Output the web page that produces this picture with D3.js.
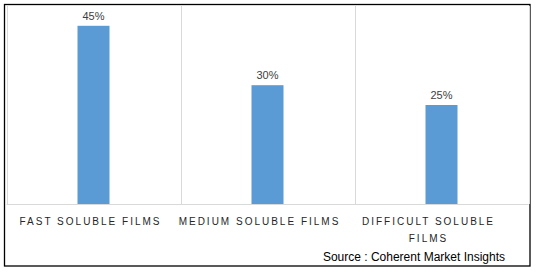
<!DOCTYPE html>
<html>
<head>
<meta charset="utf-8">
<script src="https://cdn.jsdelivr.net/npm/d3@7"></script>
<style>
  body { margin: 0; background: #fff; }
  svg { display: block; }
</style>
</head>
<body>
<div id="chart"></div>
<script>
// data
const categories = ["FAST SOLUBLE FILMS", "MEDIUM SOLUBLE FILMS", "DIFFICULT SOLUBLE FILMS"];
const labelLines = [["FAST SOLUBLE FILMS"], ["MEDIUM SOLUBLE FILMS"], ["DIFFICULT SOLUBLE", "FILMS"]];
const shares = [45, 30, 25];
const sourceText = "Source : Coherent Market Insights";

const width = 538;
const height = 272;
const plot = { left: 6.5, right: 528.5, top: 6, bottom: 204 };

const svg = d3.select("#chart")
  .append("svg")
  .attr("width", width)
  .attr("height", height);

// outer frame
svg.append("rect")
  .attr("x", 4.5)
  .attr("y", 4.5)
  .attr("width", 525.5)
  .attr("height", 261.5)
  .attr("fill", "#fff")
  .attr("stroke", "#000")
  .attr("stroke-width", 1.3);

const xScale = d3.scaleBand()
  .domain(categories)
  .range([plot.left, plot.right]);

const yScale = d3.scaleLinear()
  .domain([0, 50])
  .range([plot.bottom, plot.top]);

// vertical category dividers
const dividers = categories.map((c) => xScale(c)).concat([plot.right]);
svg.append("g")
  .selectAll("line")
  .data(dividers)
  .join("line")
  .attr("x1", (d) => Math.round(d) + 0.5)
  .attr("x2", (d) => Math.round(d) + 0.5)
  .attr("y1", plot.top)
  .attr("y2", plot.bottom)
  .attr("stroke", "#d9d9d9")
  .attr("stroke-width", 1);

// bars
const barWidth = 32;
svg.append("g")
  .selectAll("rect")
  .data(shares)
  .join("rect")
  .attr("x", (d, i) => xScale(categories[i]) + xScale.bandwidth() / 2 - barWidth / 2)
  .attr("y", (d) => yScale(d))
  .attr("width", barWidth)
  .attr("height", (d) => yScale(0) - yScale(d))
  .attr("fill", "#5b9bd5");

// axis line
svg.append("line")
  .attr("x1", plot.left)
  .attr("x2", plot.right)
  .attr("y1", plot.bottom + 0.5)
  .attr("y2", plot.bottom + 0.5)
  .attr("stroke", "#d9d9d9");

// value labels
svg.append("g")
  .selectAll("text")
  .data(shares)
  .join("text")
  .attr("x", (d, i) => xScale(categories[i]) + xScale.bandwidth() / 2)
  .attr("y", (d) => yScale(d) - 6)
  .attr("text-anchor", "middle")
  .attr("fill", "#404040")
  .style("font-family", "'Liberation Sans', Arial, sans-serif")
  .style("font-size", "11px")
  .text((d) => d + "%");

// category labels (excel pulls the wide spaced labels a bit to the left)
const catLabels = svg.append("g")
  .selectAll("text")
  .data(categories)
  .join("text")
  .attr("x", (d, i) => xScale(d) + xScale.bandwidth() / 2 - 3 - 5 * i)
  .attr("y", 225)
  .attr("text-anchor", "middle")
  .attr("fill", "#262626")
  .style("font-family", "'Liberation Sans', Arial, sans-serif")
  .style("font-size", "10px")
  .style("letter-spacing", "2px");

catLabels.selectAll("tspan")
  .data((d, i) => labelLines[i])
  .join("tspan")
  .attr("x", function () { return d3.select(this.parentNode).attr("x"); })
  .attr("dy", (d, j) => (j === 0 ? 0 : 17))
  .text((d) => d);

// source note
svg.append("text")
  .attr("x", 505)
  .attr("y", 261)
  .attr("text-anchor", "end")
  .attr("fill", "#000")
  .style("font-family", "'Liberation Sans', Arial, sans-serif")
  .style("font-size", "12px")
  .text(sourceText);
</script>
</body>
</html>
